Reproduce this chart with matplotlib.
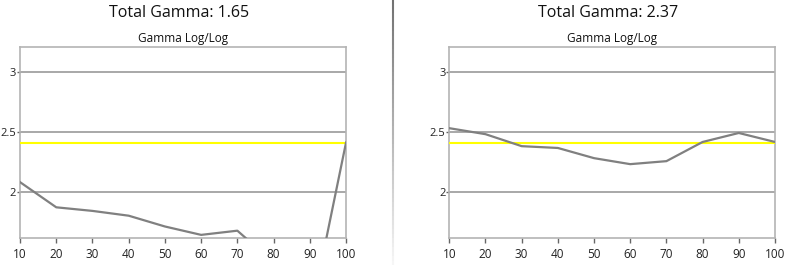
import numpy as np
import matplotlib
matplotlib.use("Agg")
import matplotlib.pyplot as plt
from matplotlib.collections import LineCollection

plt.rcParams['font.family'] = ['Open Sans', 'DejaVu Sans']

# stimulus levels (%)
levels = [10, 20, 30, 40, 50, 60, 70, 80, 90, 100]

# measured gamma per level, two panels
gamma_left = [2.08, 1.87, 1.84, 1.80, 1.71, 1.64, 1.675, 1.41, 0.94, 2.41]
gamma_right = [2.53, 2.48, 2.38, 2.365, 2.28, 2.23, 2.255, 2.415, 2.49, 2.415]

titles = ["Total Gamma: 1.65", "Total Gamma: 2.37"]
target_gamma = 2.41
yticks = [2, 2.5, 3]

fig = plt.figure(figsize=(7.92, 2.65), dpi=100)

axes_pos = [[0.0253, 0.1019, 0.4116, 0.722],
            [0.5673, 0.1019, 0.4112, 0.722]]

for pos, data, title in zip(axes_pos, [gamma_left, gamma_right], titles):
    ax = fig.add_axes(pos)
    ax.set_xlim(10, 100)
    ax.set_ylim(1.614, 3.21)
    ax.set_xticks(levels)
    ax.set_yticks(yticks)
    ax.set_yticklabels(['2', '2.5', '3'])
    ax.grid(axis='y', color='#999999', lw=1.2)
    ax.set_axisbelow(True)
    for s in ax.spines.values():
        s.set_color('#b4b4b4')
        s.set_linewidth(1.2)
    ax.tick_params(axis='x', labelsize=8.5, colors='#222222', length=3.5,
                   width=1, pad=4)
    ax.tick_params(axis='y', labelsize=8, colors='#222222', length=2.5,
                   width=1, pad=0.3)
    ax.tick_params(axis='both', color='#666666')
    ax.axhline(target_gamma, color='#ffff00', lw=1.5, zorder=3)
    ax.plot(levels, data, color='#808080', lw=1.6, zorder=4)
    ax.set_title("Gamma Log/Log", fontsize=8.5, pad=3, color='#111111')
    # big panel title
    cx = pos[0] + pos[2] / 2 - 4 / 792
    fig.text(cx, 0.952, title, ha='center', va='center', fontsize=11.5,
             color='#111111')

# separator between the two panels, fading toward the bottom
ys = np.linspace(1.0, 0.0, 60)
segs = [[(393 / 792, ys[i]), (393 / 792, ys[i + 1])] for i in range(len(ys) - 1)]
alphas = np.linspace(0.85, 0.05, len(segs))
cols = [(0.35, 0.35, 0.35, a) for a in alphas]
lc = LineCollection(segs, colors=cols, linewidths=1.5, transform=fig.transFigure)
fig.add_artist(lc)

fig.savefig("out.png", dpi=100)
